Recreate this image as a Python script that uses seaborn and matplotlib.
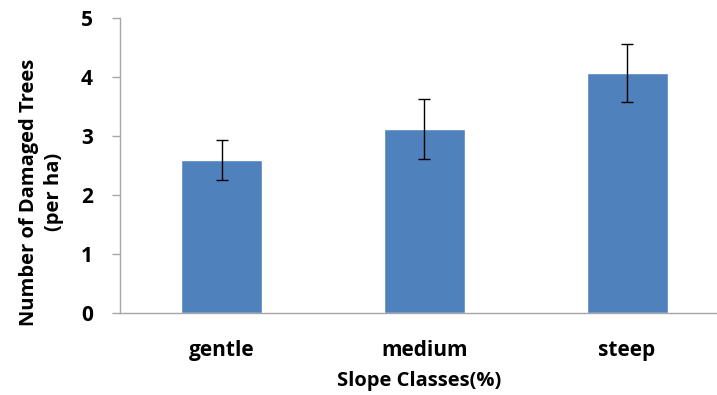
import matplotlib
matplotlib.use("Agg")
import matplotlib.pyplot as plt
import seaborn as sns
import pandas as pd

# values
classes = ["gentle", "medium", "steep"]
damaged = [2.59, 3.11, 4.07]
err = [0.34, 0.51, 0.49]

sns.set_theme(style="white")
plt.rcParams["font.family"] = ["Open Sans", "DejaVu Sans"]

df = pd.DataFrame({"slope": classes, "trees": damaged})

fig = plt.figure(figsize=(7.17, 3.95), dpi=100)
ax = fig.add_axes([0.168, 0.2084, 0.832, 0.7466])

sns.barplot(data=df, x="slope", y="trees", color="#4F81BD", saturation=1,
            width=0.40, ax=ax, errorbar=None)
ax.errorbar(range(len(classes)), damaged, yerr=err, fmt="none",
            ecolor="black", elinewidth=1.0, capsize=4.5, capthick=1.0)

ax.set_xlim(-0.5, 2.444)
ax.set_ylim(0, 5)
ax.set_yticks([0, 1, 2, 3, 4, 5])

grey = "#A6A6A6"
for side in ["top", "right"]:
    ax.spines[side].set_visible(False)
ax.spines["left"].set_color(grey)
ax.spines["bottom"].set_color(grey)
ax.spines["left"].set_linewidth(1.0)
ax.spines["bottom"].set_linewidth(1.0)

ax.tick_params(axis="y", which="major", left=True, length=6, width=1,
               color=grey, direction="out", labelsize=15, pad=14)
ax.tick_params(axis="x", bottom=False, labelsize=15, pad=14)
for lbl in ax.get_yticklabels() + ax.get_xticklabels():
    lbl.set_fontweight("bold")
    lbl.set_color("black")

ax.set_xlabel("Slope Classes(%)", fontsize=14.5, fontweight="bold",
              color="black", labelpad=7)
ax.set_ylabel("")
fig.text(0.058, 0.514, "Number of Damaged Trees\n(per ha)", rotation=90,
         ha="center", va="center", multialignment="center",
         fontsize=14.5, fontweight="bold", color="black", linespacing=1.35)

fig.savefig("out.png", dpi=100)
